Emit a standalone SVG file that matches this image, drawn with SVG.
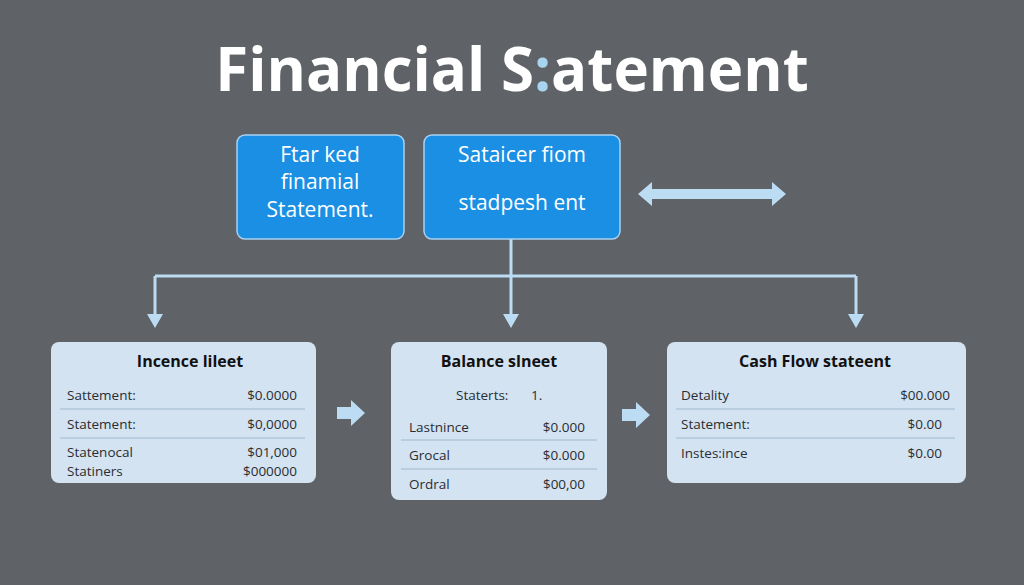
<svg xmlns="http://www.w3.org/2000/svg" width="1024" height="585" viewBox="0 0 1024 585">
<defs>
<style>
.bg{fill:#5f6267}
.top{fill:#1a8fe3;stroke:#a9d2f2;stroke-width:1.5}
.card{fill:#d3e3f1}
.tw{font-family:"Open Sans","Liberation Sans",sans-serif;fill:#ffffff;font-size:21px;text-anchor:middle}
.ct{font-family:"Open Sans","Liberation Sans",sans-serif;fill:#111111;font-size:16px;font-weight:bold;text-anchor:middle}
.rt{font-family:"Open Sans","Liberation Sans",sans-serif;fill:#2a2d33;font-size:13.5px}
.rr{text-anchor:end}
.sep{stroke:#9fb8cc;stroke-width:1}
.conn{stroke:#bcdcf4;stroke-width:3;fill:none}
.ah{fill:#bcdcf4}
</style>
</defs>
<rect class="bg" x="0" y="0" width="1024" height="585"/>
<g id="title">
<text x="512" y="91" font-family="Open Sans, Liberation Sans, sans-serif" font-size="60" font-weight="bold" fill="#ffffff" text-anchor="middle">Financial S<tspan fill="#a8d4f0">:</tspan>atement</text>
</g>
<g id="connectors">
<path class="conn" d="M511,239 V276 M155,276 H856 M155,276 V314 M511,276 V314 M856,276 V314"/>
<path class="ah" d="M147,314 H163 L155,328 Z M503,314 H519 L511,328 Z M848,314 H864 L856,328 Z"/>
<path class="ah" d="M638,194 L652,182 V189 H772 V182 L786,194 L772,206 V199 H652 V206 Z"/>
<path class="ah" d="M337,407 H351 V400 L365,413 L351,426 V419 H337 Z"/>
<path class="ah" d="M622,409 H636 V402 L650,415 L636,428 V421 H622 Z"/>
</g>
<g id="node-top1">
<rect class="top" x="237" y="135" width="167" height="104" rx="8"/>
<text class="tw" x="320" y="162">Ftar ked</text>
<text class="tw" x="320" y="189">finamial</text>
<text class="tw" x="320" y="217">Statement.</text>
</g>
<g id="node-top2">
<rect class="top" x="424" y="135" width="196" height="104" rx="8"/>
<text class="tw" x="522" y="162">Sataicer fiom</text>
<text class="tw" x="522" y="210">stadpesh ent</text>
</g>
<g id="node-income">
<rect class="card" x="51" y="342" width="265" height="141" rx="8"/>
<text class="ct" x="190" y="367">Incence lileet</text>
<text class="rt" x="67" y="400">Sattement:</text>
<text class="rt rr" x="297" y="400">$0.0000</text>
<line class="sep" x1="60" y1="409" x2="305" y2="409"/>
<text class="rt" x="67" y="429">Statement:</text>
<text class="rt rr" x="297" y="429">$0,0000</text>
<line class="sep" x1="60" y1="438" x2="305" y2="438"/>
<text class="rt" x="67" y="457">Statenocal</text>
<text class="rt rr" x="297" y="457">$01,000</text>
<text class="rt" x="67" y="476">Statiners</text>
<text class="rt rr" x="297" y="476">$000000</text>
</g>
<g id="node-balance">
<rect class="card" x="391" y="342" width="216" height="158" rx="8"/>
<text class="ct" x="499" y="367">Balance slneet</text>
<text class="rt" x="456" y="400">Staterts:</text>
<text class="rt" x="531" y="400">1.</text>
<text class="rt" x="409" y="432">Lastnince</text>
<text class="rt rr" x="585" y="432">$0.000</text>
<line class="sep" x1="401" y1="440" x2="597" y2="440"/>
<text class="rt" x="409" y="460">Grocal</text>
<text class="rt rr" x="585" y="460">$0.000</text>
<line class="sep" x1="401" y1="469" x2="597" y2="469"/>
<text class="rt" x="409" y="489">Ordral</text>
<text class="rt rr" x="585" y="489">$00,00</text>
</g>
<g id="node-cashflow">
<rect class="card" x="667" y="342" width="299" height="141" rx="8"/>
<text class="ct" x="815" y="367">Cash Flow stateent</text>
<text class="rt" x="681" y="400">Detality</text>
<text class="rt rr" x="950" y="400">$00.000</text>
<line class="sep" x1="676" y1="409" x2="955" y2="409"/>
<text class="rt" x="681" y="429">Statement:</text>
<text class="rt rr" x="942" y="429">$0.00</text>
<line class="sep" x1="676" y1="438" x2="955" y2="438"/>
<text class="rt" x="681" y="458">Instes:ince</text>
<text class="rt rr" x="942" y="458">$0.00</text>
</g>
</svg>
